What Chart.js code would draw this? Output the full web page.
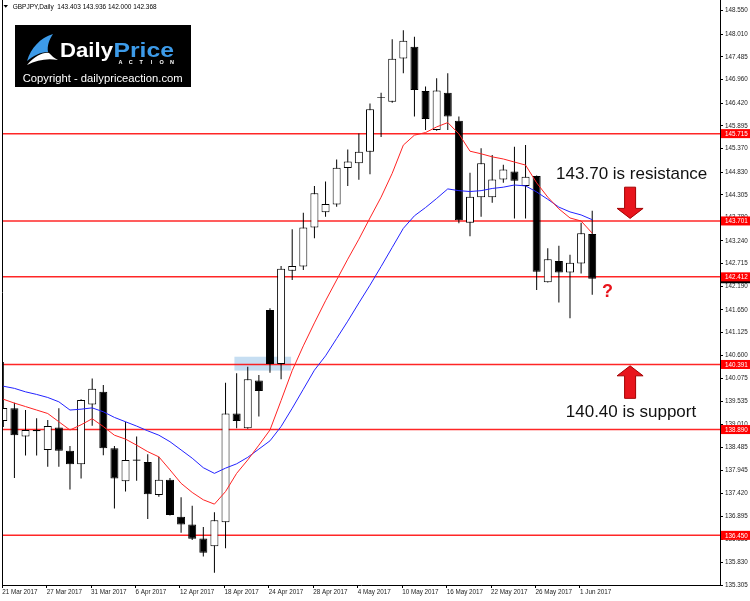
<!DOCTYPE html>
<html><head><meta charset="utf-8">
<script src="https://cdn.jsdelivr.net/npm/chart.js@4.4.1/dist/chart.umd.min.js"></script>
<style>html,body{margin:0;padding:0;background:#fff;overflow:hidden}#wrap{width:750px;height:601px;position:relative}</style>
</head><body><div id="wrap"><canvas id="c" width="750" height="601"></canvas></div>
<script>
const HEADER_TEXT = "GBPJPY,Daily  143.403 143.936 142.000 142.368";
const DATES = ["21 Mar 2017","22 Mar 2017","23 Mar 2017","24 Mar 2017","27 Mar 2017","28 Mar 2017","29 Mar 2017","30 Mar 2017","31 Mar 2017",
"3 Apr 2017","4 Apr 2017","5 Apr 2017","6 Apr 2017","7 Apr 2017","10 Apr 2017","11 Apr 2017","12 Apr 2017","13 Apr 2017","14 Apr 2017",
"17 Apr 2017","18 Apr 2017","19 Apr 2017","20 Apr 2017","21 Apr 2017","24 Apr 2017","25 Apr 2017","26 Apr 2017","27 Apr 2017","28 Apr 2017",
"1 May 2017","2 May 2017","3 May 2017","4 May 2017","5 May 2017","8 May 2017","9 May 2017","10 May 2017","11 May 2017","12 May 2017",
"15 May 2017","16 May 2017","17 May 2017","18 May 2017","19 May 2017","22 May 2017","23 May 2017","24 May 2017","25 May 2017","26 May 2017",
"29 May 2017","30 May 2017","31 May 2017","1 Jun 2017","2 Jun 2017"];
const OPEN  = [139.09,139.38,138.73,138.88,138.42,138.94,138.40,138.09,139.47,139.76,138.46,137.70,138.20,138.14,137.38,137.73,136.88,136.70,136.38,136.20,136.75,139.26,138.92,140.02,141.65,140.40,142.55,142.65,143.55,143.90,144.08,144.92,145.03,145.30,146.54,146.45,147.45,147.72,146.70,145.80,146.66,146.01,143.66,144.25,144.25,144.66,144.84,144.51,144.74,142.29,142.78,142.51,142.72,143.403];
const HIGH  = [140.45,139.51,139.34,139.15,139.11,139.38,138.51,139.59,140.07,139.92,138.51,139.07,138.73,138.32,138.26,137.77,137.33,137.13,136.64,136.98,139.97,140.19,140.34,140.15,141.69,142.66,143.51,143.89,144.51,144.61,145.12,145.35,145.72,146.41,146.66,147.89,148.10,147.95,146.80,146.99,147.11,146.11,144.81,145.38,145.22,145.00,145.41,145.45,144.75,143.07,143.13,142.92,143.66,143.936];
const LOW   = [138.95,137.77,138.29,138.29,138.03,138.03,137.51,137.76,138.98,138.30,137.07,137.46,137.71,136.83,137.34,136.91,136.51,136.34,135.96,135.59,136.15,138.92,138.91,139.19,140.20,140.05,142.34,142.57,143.30,143.80,144.03,144.51,144.65,144.78,145.64,146.43,147.11,146.11,145.80,145.78,145.80,143.65,143.35,143.80,144.12,144.58,143.76,143.76,142.11,142.28,141.82,141.46,142.49,142.000];
const CLOSE = [139.39,138.76,138.88,138.85,138.97,138.40,138.09,139.57,139.83,138.46,137.76,138.19,138.17,137.40,137.73,136.92,136.70,136.37,136.05,136.80,139.26,139.09,140.05,139.78,140.40,142.60,142.66,143.55,144.34,144.09,144.93,145.07,145.30,146.28,146.56,147.44,147.86,146.72,146.05,146.71,146.11,143.72,144.26,145.03,144.66,144.89,144.63,144.72,142.53,142.82,142.51,142.74,143.42,142.368];
const MA_FAST = [139.59,139.50,139.42,139.34,139.26,139.07,138.88,139.00,139.14,138.96,138.76,138.67,138.53,138.38,138.26,137.96,137.65,137.44,137.27,137.17,137.46,137.88,138.19,138.53,138.88,139.56,140.25,140.82,141.35,141.86,142.34,142.82,143.28,143.77,144.25,144.80,145.45,145.68,145.74,145.87,145.97,145.71,145.31,145.25,145.18,145.13,145.06,144.99,144.58,144.25,143.98,143.77,143.70,143.42];
const MA_SLOW = [139.89,139.84,139.76,139.70,139.63,139.53,139.34,139.36,139.39,139.30,139.17,139.07,138.97,138.86,138.76,138.61,138.42,138.23,138.01,137.88,138.00,138.10,138.25,138.44,138.63,138.96,139.38,139.82,140.26,140.59,140.99,141.39,141.81,142.22,142.65,143.09,143.53,143.82,144.01,144.22,144.44,144.40,144.38,144.40,144.45,144.48,144.53,144.51,144.37,144.20,144.02,143.91,143.84,143.73];
const LEVELS = [145.715,143.701,142.412,140.391,138.890,136.450];
const LAST_PRICE = 142.368;
const Y_TICKS = [148.550,148.010,147.485,146.960,146.420,145.895,145.370,144.830,144.305,143.780,143.240,142.715,142.190,141.650,141.125,140.600,140.075,139.535,139.010,138.485,137.945,137.420,136.895,136.355,135.830,135.305];
const X_TICK_BARS = [0,4,8,12,16,20,24,28,32,36,40,44,48,52];
const ZONE_BARS = [20.8,25.9];
const ZONE_PRICES = [140.25,140.57];
const NOTE_TEXTS = ["143.70 is resistance","140.40 is support","?"];
const NOTE_BARS = [49.75,50.62,54.38];
const NOTE_PRICES = [144.67,139.18,141.95];
const ARROW_BARS = [56.41,56.41];
const ARROW_FROM = [144.48,139.61];
const ARROW_TIP = [143.76,140.36];

const FONT = '"Liberation Sans", Arial, sans-serif';
const idx = DATES.map((d,i)=>i);

function fitText(ctx,t,font,x,y,w,color){
  ctx.save();ctx.font=font;const m=ctx.measureText(t).width;
  ctx.translate(x,y);ctx.scale(w/m,1);ctx.fillStyle=color;ctx.textBaseline='alphabetic';ctx.textAlign='left';
  ctx.fillText(t,0,0);ctx.restore();
}
function drawArrow(ctx,cx,y0,y1){
  const dir = y1>y0?1:-1, headLen=10, hw=13, sw=5.5;
  const hb = y1-dir*headLen;
  ctx.beginPath();
  ctx.moveTo(cx-sw,y0);ctx.lineTo(cx+sw,y0);ctx.lineTo(cx+sw,hb);ctx.lineTo(cx+hw,hb);
  ctx.lineTo(cx,y1);ctx.lineTo(cx-hw,hb);ctx.lineTo(cx-sw,hb);ctx.closePath();
  ctx.fillStyle='#e8141c';ctx.fill();ctx.lineWidth=1;ctx.strokeStyle='#a30000';ctx.stroke();
}
function drawLogo(ctx){
  ctx.fillStyle='#000';ctx.fillRect(15,25,176,62);
  ctx.fillStyle='#3d9be9';
  ctx.beginPath();ctx.moveTo(27,61);ctx.bezierCurveTo(31,48,40,38,53,34);
  ctx.bezierCurveTo(49,40,47,46,48,52);ctx.bezierCurveTo(40,52,33,56,27,61);ctx.fill();
  ctx.fillStyle='#fff';
  ctx.beginPath();ctx.moveTo(27,65);ctx.bezierCurveTo(35,56,43,52,49,53);
  ctx.bezierCurveTo(52,56,54,58,58,60);ctx.bezierCurveTo(47,58,37,60,27,65);ctx.fill();
  fitText(ctx,'Daily','bold 21px '+FONT,60,57,53,'#fff');
  fitText(ctx,'Price','bold 21px '+FONT,113.5,57,60.5,'#3d9be9');
  ctx.save();ctx.font='bold 5.5px '+FONT;ctx.fillStyle='#fff';ctx.textAlign='center';
  'ACTION'.split('').forEach((ch,k)=>ctx.fillText(ch,120.5+k*10.3,62.8));ctx.restore();
  fitText(ctx,'Copyright - dailypriceaction.com','11px '+FONT,22.7,82,160,'#fff');
}

const overlay = {
  id:'overlay',
  beforeDatasetsDraw(chart){
    const {ctx,scales:{x,y}}=chart;
    ctx.save();ctx.fillStyle='rgb(198,222,242)';
    const x0=x.getPixelForValue(ZONE_BARS[0]),x1=x.getPixelForValue(ZONE_BARS[1]);
    const y0=y.getPixelForValue(ZONE_PRICES[1]),y1=y.getPixelForValue(ZONE_PRICES[0]);
    ctx.fillRect(x0,y0,x1-x0,y1-y0);ctx.restore();
  },
  afterDraw(chart){
    const {ctx,scales:{x,y},chartArea:a}=chart;
    ctx.save();
    // left frame
    ctx.strokeStyle='#000';ctx.lineWidth=1;ctx.beginPath();ctx.moveTo(a.left+0.5,0);ctx.lineTo(a.left+0.5,a.bottom);ctx.stroke();
    // price boxes
    ctx.font='6.3px '+FONT;ctx.textBaseline='middle';ctx.textAlign='left';
    const box=(v,bg)=>{const py=y.getPixelForValue(v);ctx.fillStyle=bg;ctx.fillRect(a.right+1,py-4.5,750-a.right-1,9);ctx.fillStyle='#fff';ctx.fillText(v.toFixed(3),a.right+5,py+0.5);};
    box(LAST_PRICE,'#000');
    LEVELS.forEach(v=>box(v,'#ff0000'));
    // header
    ctx.fillStyle='#000';ctx.beginPath();ctx.moveTo(3.5,5);ctx.lineTo(8,5);ctx.lineTo(5.75,7.8);ctx.closePath();ctx.fill();
    fitText(ctx,HEADER_TEXT,'6.5px '+FONT,12.7,9.3,144,'#000');
    drawLogo(ctx);
    // notes
    ctx.textBaseline='alphabetic';ctx.textAlign='left';
    ctx.font='17px '+FONT;ctx.fillStyle='#111';
    ctx.fillText(NOTE_TEXTS[0],x.getPixelForValue(NOTE_BARS[0]),y.getPixelForValue(NOTE_PRICES[0]));
    ctx.fillText(NOTE_TEXTS[1],x.getPixelForValue(NOTE_BARS[1]),y.getPixelForValue(NOTE_PRICES[1]));
    ctx.font='bold 18px '+FONT;ctx.fillStyle='#e8141c';ctx.textAlign='center';
    ctx.fillText(NOTE_TEXTS[2],x.getPixelForValue(NOTE_BARS[2]),y.getPixelForValue(NOTE_PRICES[2]));
    ARROW_BARS.forEach((b,k)=>drawArrow(ctx,x.getPixelForValue(b),y.getPixelForValue(ARROW_FROM[k]),y.getPixelForValue(ARROW_TIP[k])));
    ctx.restore();
  }
};

const datasets = [
  {type:'line',label:'fast',order:0,data:idx.map(i=>({x:i,y:MA_FAST[i]})),borderColor:'rgb(255,35,35)',borderWidth:1,pointRadius:0,tension:0},
  {type:'line',label:'slow',order:0,data:idx.map(i=>({x:i,y:MA_SLOW[i]})),borderColor:'rgb(35,35,255)',borderWidth:1,pointRadius:0,tension:0},
  {type:'bar',label:'body',order:1,grouped:false,barThickness:8,borderSkipped:false,inflateAmount:0,
   data:idx.map(i=>({x:i,y:[OPEN[i],CLOSE[i]]})),
   backgroundColor:idx.map(i=>CLOSE[i]>=OPEN[i]?'#fff':'#000'),borderColor:'#000',borderWidth:1},
  {type:'bar',label:'wick',order:2,grouped:false,barThickness:1,borderSkipped:false,inflateAmount:0,
   data:idx.map(i=>({x:i,y:[LOW[i],HIGH[i]]})),backgroundColor:'#000',borderWidth:0}
];
LEVELS.forEach(v=>datasets.push({type:'line',label:'lvl',order:3,data:[{x:-5,y:v},{x:80,y:v}],borderColor:'rgba(255,0,0,0.85)',borderWidth:1.5,pointRadius:0}));

new Chart(document.getElementById('c'),{
  type:'bar',
  data:{datasets},
  options:{
    responsive:false,maintainAspectRatio:false,animation:false,devicePixelRatio:1,
    layout:{padding:{left:2,top:0,right:0,bottom:0}},
    plugins:{legend:{display:false},tooltip:{enabled:false}},
    scales:{
      x:{type:'linear',position:'bottom',min:-0.117,max:64.5,offset:false,
        afterBuildTicks:s=>{s.ticks=X_TICK_BARS.map(v=>({value:v-0.1}));},
        afterFit:s=>{s.height=16;s.paddingLeft=0;s.paddingRight=0;},
        grid:{drawOnChartArea:false,offset:false,tickLength:3,color:'#000'},
        border:{display:true,color:'#000'},
        ticks:{autoSkip:false,maxRotation:0,align:'start',padding:0,color:'#222',font:{family:FONT,size:6.3},
          callback:(v,i)=>DATES[X_TICK_BARS[i]]}},
      y:{type:'linear',position:'right',min:135.305,max:148.797,
        afterBuildTicks:s=>{s.ticks=Y_TICKS.map(v=>({value:v}));},
        afterFit:s=>{s.width=30;s.paddingTop=0;s.paddingBottom=0;},
        grid:{drawOnChartArea:false,tickLength:3,color:'#000'},
        border:{display:true,color:'#000'},
        ticks:{autoSkip:false,padding:2,color:'#222',font:{family:FONT,size:6.3},callback:v=>Number(v).toFixed(3)}}
    }
  },
  plugins:[overlay]
});
</script></body></html>
